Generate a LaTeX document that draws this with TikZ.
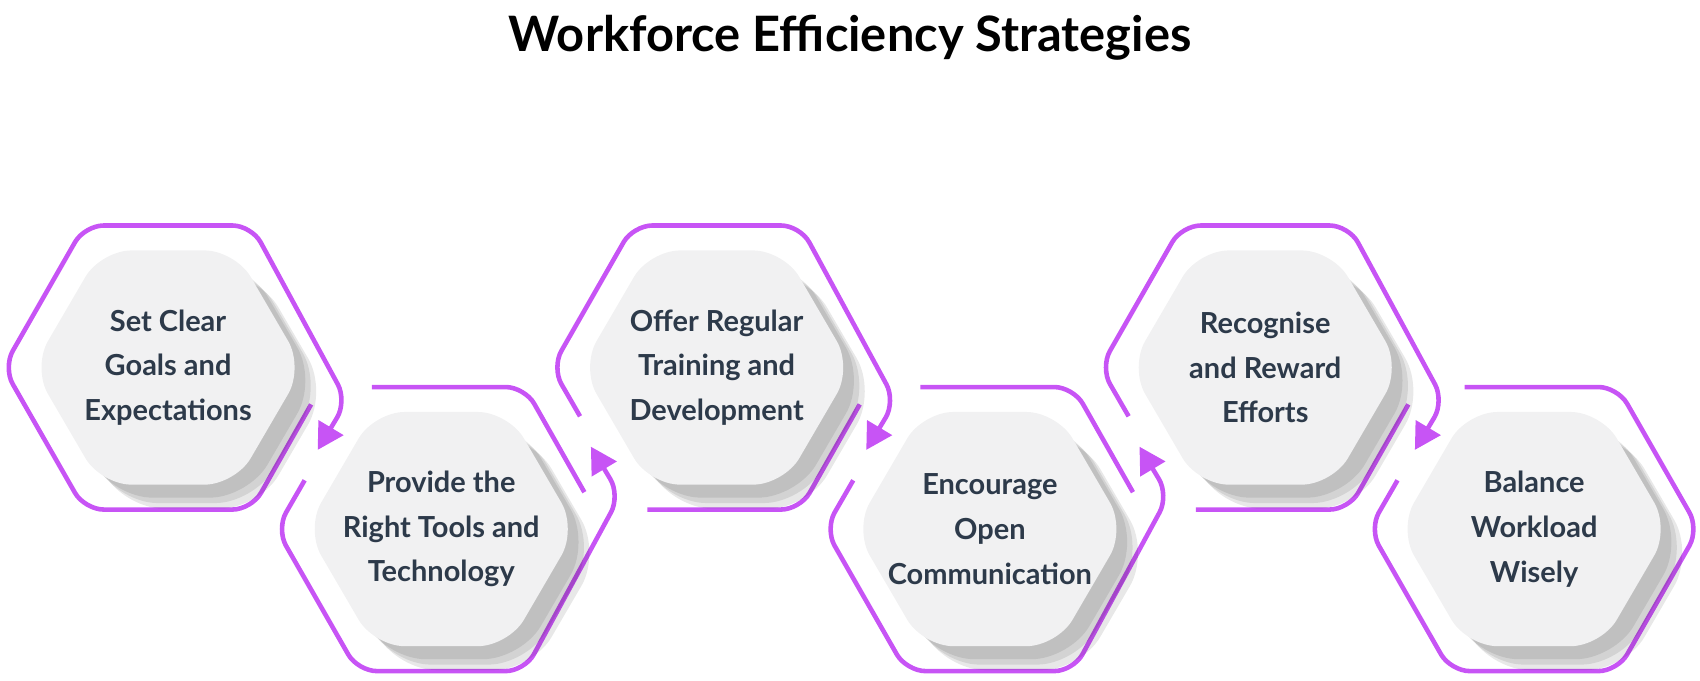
\documentclass[tikz,border=0pt]{standalone}
\usepackage{fontspec}
\setmainfont{Lato}
\usetikzlibrary{arrows.meta}
\definecolor{ringpurple}{RGB}{199,84,245}
\definecolor{hexfill}{RGB}{241,241,242}
\definecolor{hextext}{RGB}{45,58,74}
\tikzset{
  ring/.style = {draw = ringpurple, line width = 1.2pt, rounded corners = 5pt},
  tipend/.style = {-{Triangle[length = 2.4mm, width = 2.6mm]}},
  hexbody/.style = {fill = hexfill, rounded corners = 8pt},
  hexshadow/.style = {fill = black, opacity = 0.09, rounded corners = 10pt},
  hexlabel/.style = {text = hextext, font = \bfseries\fontsize{7.6}{11.7}\selectfont, align = center}
}
\begin{document}
\begin{tikzpicture}[x = 0.01cm, y = -0.01cm]
  \useasboundingbox (0,0) rectangle (1568,628);
  \node (title) [font = \bfseries\fontsize{12.8}{15}\selectfont] at (784,35) {Workforce Efficiency Strategies};
  % rings of the middle hexagons
  \foreach \cx/\cy/\s in {661/339/1, 1167/339/1, 407/488/-1, 913/488/-1}{
    \draw [ring, tipend] ({\cx-126},{\cy+\s*45}) -- ({\cx-152},\cy) -- ({\cx-77},{\cy-\s*131}) -- ({\cx+77},{\cy-\s*131}) -- ({\cx+165},{\cy+\s*31}) -- ({\cx+138},{\cy+\s*76});
    \draw [ring] ({\cx+132},{\cy+\s*34}) -- ({\cx+77},{\cy+\s*131}) -- ({\cx-64},{\cy+\s*131});
  }
  % first and last ring
  \draw [ring, tipend] (287,373) -- (232,470) -- (78,470) -- (3,339) -- (78,208) -- (232,208) -- (320,370) -- (293,415);
  \draw [ring] (1289,443) -- (1263,488) -- (1338,619) -- (1492,619) -- (1567,488) -- (1492,357) -- (1351,357);
  % hexagons
  \foreach \cx/\cy/\name/\txt in {155/339/goals/{Set Clear\\Goals and\\Expectations},
      407/488/tools/{Provide the\\Right Tools and\\Technology},
      661/339/training/{Offer Regular\\Training and\\Development},
      913/488/talk/{Encourage\\Open\\Communication},
      1167/339/reward/{Recognise\\and Reward\\Efforts},
      1415/488/balance/{Balance\\Workload\\Wisely}}{
    \foreach \d in {12,17,22}
      \fill [hexshadow] ({\cx-125+\d},{\cy+\d}) -- ({\cx-62+\d},{\cy-108+\d}) -- ({\cx+62+\d},{\cy-108+\d}) -- ({\cx+125+\d},{\cy+\d}) -- ({\cx+62+\d},{\cy+108+\d}) -- ({\cx-62+\d},{\cy+108+\d}) -- cycle;
    \fill [hexbody] ({\cx-125},\cy) -- ({\cx-62},{\cy-108}) -- ({\cx+62},{\cy-108}) -- ({\cx+125},\cy) -- ({\cx+62},{\cy+108}) -- ({\cx-62},{\cy+108}) -- cycle;
    \node (\name) [hexlabel] at (\cx,\cy) {\txt};
  }
\end{tikzpicture}
\end{document}
